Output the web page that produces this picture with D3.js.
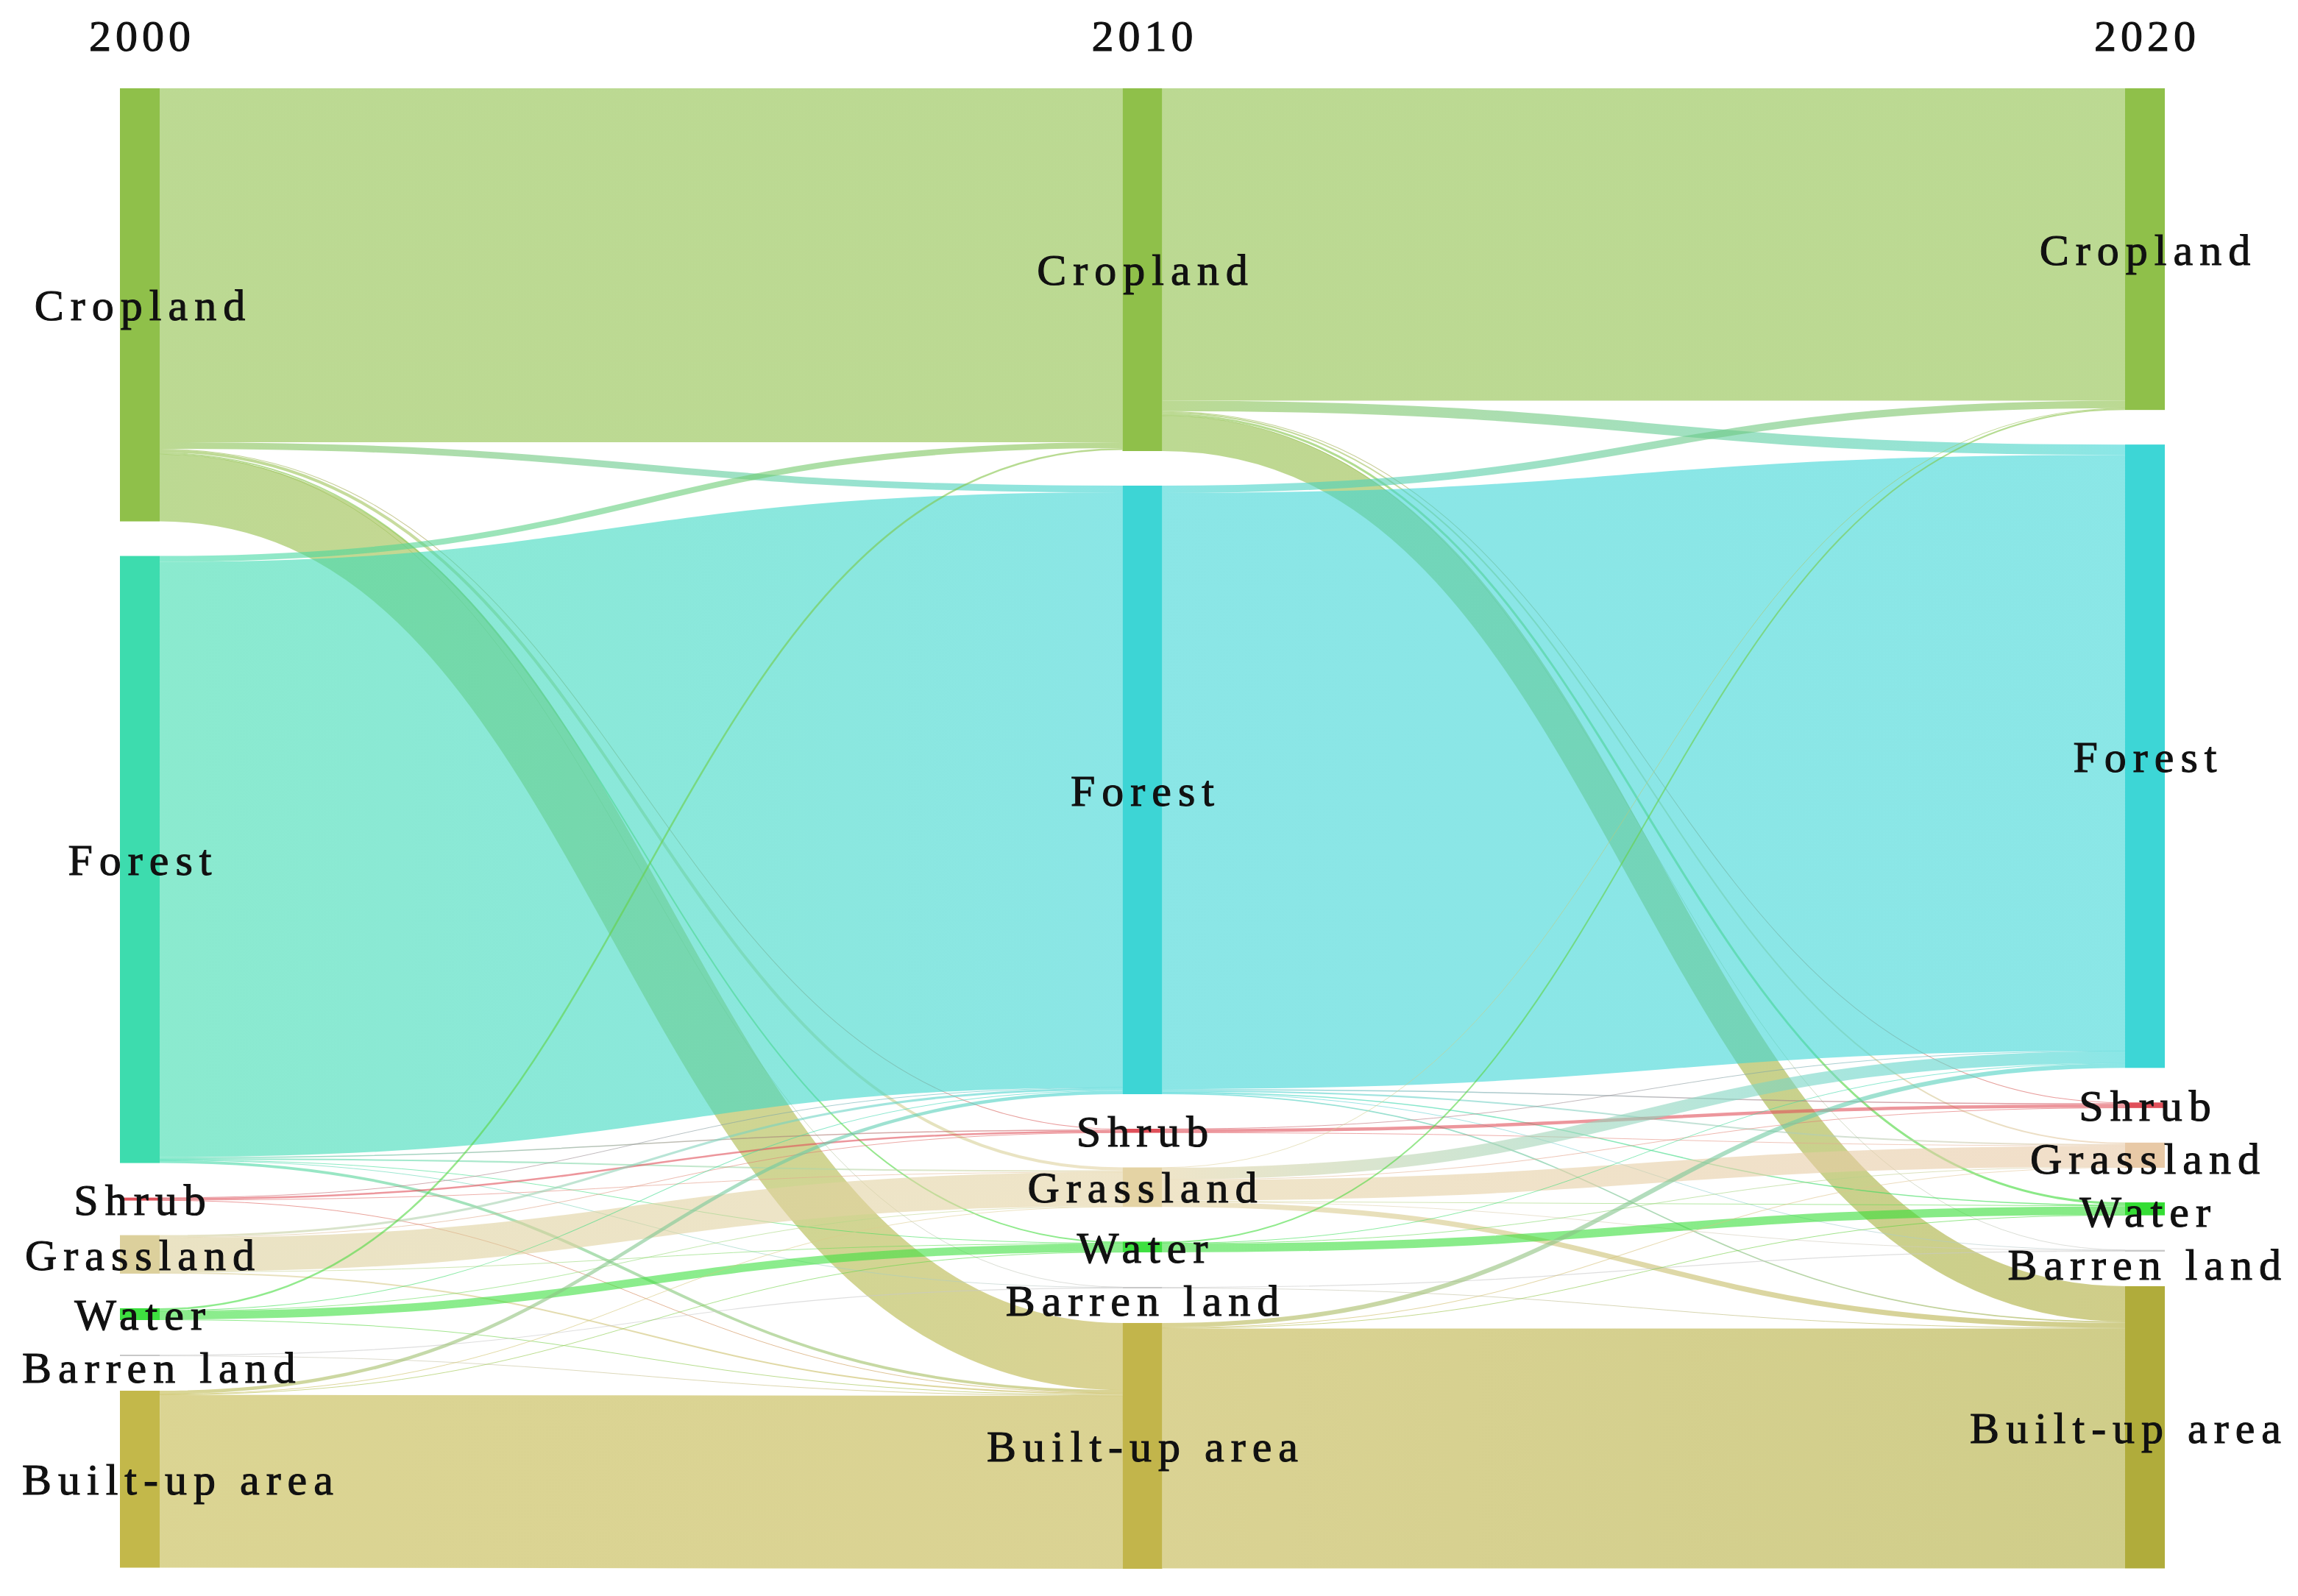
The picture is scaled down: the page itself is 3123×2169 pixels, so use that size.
<!DOCTYPE html>
<html>
<head>
<meta charset="utf-8">
<script src="https://cdn.jsdelivr.net/npm/d3@7"></script>
<style>
  body { margin: 0; background: #fff; }
  text { font-family: "Liberation Serif", "Times New Roman", serif; fill: #111; stroke: #111; stroke-width: 1.1px; }
</style>
</head>
<body>
<div id="chart"></div>
<script>
// land-use classes and the three survey years
var years = ["2000", "2010", "2020"];
var categories = ["Cropland", "Forest", "Shrub", "Grassland", "Water", "Barren land", "Built-up area"];

// transition matrices: row = class in earlier year, column = class in later year
var flows2000to2010 = [
  [478, 9, 1, 4, 2, 0.5, 90.5],
  [8, 804, 1.5, 2, 0.5, 0.3, 3.7],
  [0, 0.5, 2.5, 0.5, 0, 0, 0.5],
  [0, 3, 0.5, 46, 0.5, 0, 2],
  [2.5, 1, 0, 0.5, 11, 0, 1],
  [0, 0, 0, 0, 0, 1.2, 0.8],
  [0, 4.5, 0, 0.5, 0.5, 0, 233.5]
];
var flows2010to2020 = [
  [422, 14, 1, 2, 3, 0.3, 47.7],
  [10, 805, 1.5, 2, 1.5, 0.3, 1.7],
  [0, 0.5, 4.5, 0.5, 0, 0, 0],
  [0.5, 16, 0.5, 28, 1, 0.5, 7],
  [2, 0.5, 0, 0.5, 11.5, 0, 0],
  [0, 0, 0, 0, 0, 1.2, 0.8],
  [0, 6, 0, 1, 0.5, 0, 324]
];

// node colours per year
var nodeColors = [
  ["#8fc04a", "#3ddcae", "#e0505a", "#dcd09c", "#3ee040", "#c8c8c8", "#c3b84a"],
  ["#8fc04a", "#3dd5d5", "#e0505a", "#e4d3a4", "#3ee040", "#c8c8c8", "#c2b54b"],
  ["#8fc04a", "#3dd6d6", "#e0505a", "#e8c9a6", "#35dd35", "#c8c8c8", "#b0ac3b"]
];

var svgWidth = 3123;
var svgHeight = 2169;
var nodeWidth = 54;
var nodePadding = 47;
var chartTop = 120, chartBottom = 2132;
var xLeft = 163, xRight = 2888;

var svg = d3.select("#chart")
  .append("svg")
  .attr("width", svgWidth)
  .attr("height", svgHeight);

var matrices = [flows2000to2010, flows2010to2020];

// node values = larger of inflow / outflow
var columnValues = years.map(function(y, i) {
  return categories.map(function(c, k) {
    var out = i < matrices.length ? d3.sum(matrices[i][k]) : 0;
    var inn = i > 0 ? d3.sum(matrices[i - 1], function(row) { return row[k]; }) : 0;
    return Math.max(out, inn);
  });
});

var maxTotal = d3.max(columnValues, function(col) { return d3.sum(col); });
var ky = (chartBottom - chartTop - nodePadding * (categories.length - 1)) / maxTotal;

var xScale = d3.scalePoint().domain(years).range([xLeft, xRight]);
var hScale = d3.scaleLinear().domain([0, maxTotal]).range([0, maxTotal * ky]);

// build nodes
var nodes = [];
years.forEach(function(year, i) {
  var y = chartTop;
  categories.forEach(function(cat, k) {
    var h = hScale(columnValues[i][k]);
    nodes.push({
      col: i, k: k, name: cat, year: year,
      x0: xScale(year), x1: xScale(year) + nodeWidth,
      y0: y, y1: y + h,
      color: nodeColors[i][k],
      outOff: 0, inOff: 0
    });
    y += h + nodePadding;
  });
});
function nodeAt(col, k) { return nodes[col * categories.length + k]; }

// build links; offsets stack in target order at the source, source order at the target
var links = [];
matrices.forEach(function(m, i) {
  var here = [];
  m.forEach(function(row, s) {
    row.forEach(function(v, t) {
      if (v > 0) here.push({ col: i, s: s, t: t, value: v, w: hScale(v) });
    });
  });
  here.forEach(function(l) {   // already sorted by source then target
    var src = nodeAt(i, l.s);
    l.sy = src.y0 + src.outOff + l.w / 2;
    src.outOff += l.w;
  });
  here.slice().sort(function(a, b) { return a.t - b.t || a.s - b.s; }).forEach(function(l) {
    var tgt = nodeAt(i + 1, l.t);
    l.ty = tgt.y0 + tgt.inOff + l.w / 2;
    tgt.inOff += l.w;
  });
  links = links.concat(here);
});

var defs = svg.append("defs");
links.forEach(function(l, idx) {
  var src = nodeAt(l.col, l.s), tgt = nodeAt(l.col + 1, l.t);
  l.x0 = src.x1; l.x1 = tgt.x0;
  l.id = "lg" + idx;
  var g = defs.append("linearGradient")
    .attr("id", l.id)
    .attr("gradientUnits", "userSpaceOnUse")
    .attr("x1", l.x0).attr("x2", l.x1)
    .attr("y1", 0).attr("y2", 0);
  g.append("stop").attr("offset", "0%").attr("stop-color", src.color);
  g.append("stop").attr("offset", "100%").attr("stop-color", tgt.color);
});

var linkPath = d3.linkHorizontal()
  .source(function(d) { return [d.x0, d.sy]; })
  .target(function(d) { return [d.x1, d.ty]; });

svg.append("g")
  .attr("fill", "none")
  .selectAll("path")
  .data(links)
  .enter()
  .append("path")
  .attr("d", linkPath)
  .attr("stroke", function(d) { return "url(#" + d.id + ")"; })
  .attr("stroke-width", function(d) { return Math.max(d.w, 1); })
  .attr("stroke-opacity", 0.6);

svg.append("g")
  .selectAll("rect")
  .data(nodes)
  .enter()
  .append("rect")
  .attr("x", function(d) { return d.x0; })
  .attr("y", function(d) { return d.y0; })
  .attr("width", nodeWidth)
  .attr("height", function(d) { return Math.max(d.y1 - d.y0, 1); })
  .attr("fill", function(d) { return d.color; });

// year titles
svg.append("g")
  .selectAll("text")
  .data(years)
  .enter()
  .append("text")
  .attr("x", function(d) { return xScale(d) + nodeWidth / 2 + 3; })
  .attr("y", 69)
  .attr("text-anchor", "middle")
  .style("font-size", "60px")
  .style("letter-spacing", "6px")
  .text(function(d) { return d; });

// label centres; push apart small neighbours so they do not collide
var minGap = 72;
years.forEach(function(y, i) {
  var prev = -Infinity;
  categories.forEach(function(c, k) {
    var n = nodeAt(i, k);
    var cy = (n.y0 + n.y1) / 2;
    if (cy < prev + minGap) cy = prev + minGap;
    n.ly = cy;
    prev = cy;
  });
});

// node labels, centred on node and kept inside the page
var labels = svg.append("g")
  .selectAll("text")
  .data(nodes)
  .enter()
  .append("text")
  .attr("y", function(d) { return d.ly; })
  .attr("dy", "0.35em")
  .style("font-size", "60px")
  .style("letter-spacing", "9px")
  .text(function(d) { return d.name; });

labels.each(function(d) {
  var w = this.getComputedTextLength() - 9;
  var x = (d.x0 + d.x1) / 2 - w / 2;
  if (x < 30) x = 30;
  if (x + w > 3100) x = 3100 - w;
  d3.select(this).attr("x", x);
});
</script>
</body>
</html>
